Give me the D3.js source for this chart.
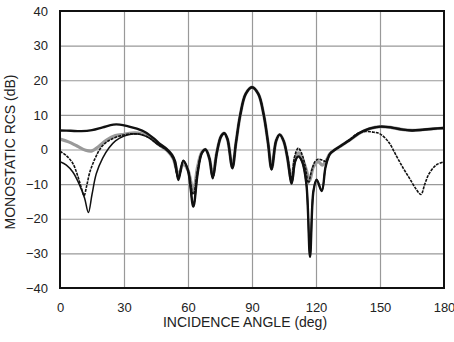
<!DOCTYPE html>
<html>
<head>
<meta charset="utf-8">
<script src="https://cdn.jsdelivr.net/npm/d3@7"></script>
<style>
  body { margin: 0; background: #fff; }
  svg { display: block; }
  text { font-family: "Liberation Sans", Arial, sans-serif; fill: #222; }
</style>
</head>
<body>
<svg id="chart" width="454" height="342"></svg>
<script>
// axis ticks
var xTicks = [0, 30, 60, 90, 120, 150, 180];
var yTicks = [-40, -30, -20, -10, 0, 10, 20, 30, 40];

// [incidence angle deg, RCS dB]
var thickBlack = [
  [0,5.5],[5,5.4],[10,5.3],[15,5.6],[20,6.4],[25,7.2],[28,7.2],[32,6.7],[36,6.0],
  [40,5.0],[44,3.2],[47,1.5],[50,0.2],[52.5,-1.5],[54,-3.5],[55.5,-8.8],[57.8,-3.2],
  [60,-6],[62.5,-16.5],[64.5,-7],[66.5,-1],[68.2,0],[70,-2.5],[71.6,-8.3],[73.5,-1],
  [75.5,3.8],[77,4.7],[78.5,3],[80.8,-5.4],[82.5,2],[84.5,10],[87,16],[90,18],
  [93,16],[95.5,10],[97.5,2],[99.2,-5.8],[101.3,2.5],[103,4.3],[104.8,2.5],[106.5,-2],
  [108.6,-9.8],[110.2,-3.5],[111.7,-2],[113.5,-3.5],[115.5,-10],[117.2,-31],[118.8,-12],
  [120.3,-8.7],[122.7,-12],[124.5,-5],[126.6,-1.2],[129,0],[131,0.8],[136,2.8],
  [140,4.6],[145,6],[150,6.6],[155,6.4],[160,5.8],[165,5.5],[170,5.7],[175,6],[180,6.2]
];

var grayCurve = [
  [0,3],[4,2.2],[8,1],[12,-0.2],[15,-0.4],[18,0.8],[22,2.8],[26,4],[30,4.4],[35,4.8],
  [38,4.6],[42,3.5],[46,1.5],[50,-0.2],[53,-2.5],[55.5,-7.2],[57.8,-4.2],[60,-6],
  [62.5,-12],[64.5,-5],[66.5,-0.8],[68.2,0],[70,-2.5],[71.6,-7.5],[73.5,-0.8],
  [75.5,3.8],[77,4.7],[78.5,3],[80.8,-5],[82.5,2],[84.5,10],[87,16],[90,18],
  [93,16],[95.5,10],[97.5,2],[99.2,-5.5],[101.3,2.5],[103,4.3],[104.8,2.5],[106.5,-2],
  [108.6,-9],[110.2,-2.5],[111.7,-1],[113.5,-2.5],[115.5,-6],[117,-9],[118.8,-5],
  [121,-3.5],[123,-4.5],[124.5,-3.5],[126.6,-1.2],[129,0],[131,0.8],[136,2.8],
  [140,4.6],[145,6],[150,6.6],[155,6.4],[160,5.8],[165,5.5],[170,5.7],[175,6],[180,6.2]
];

var thinSolid = [
  [0,-3.5],[3,-4.5],[6,-6.5],[9,-10],[11.5,-14],[13.3,-18.2],[15,-13],[17,-7],[20,-2.5],
  [23,0.5],[26,2.5],[30,3.9],[34,4.5],[38,4.3],[42,3.3],[46,1.4],[50,-0.2],[53,-2.5],
  [55.5,-8.5],[57.8,-3.2],[60,-6],[62.5,-16.5],[64.5,-7],[66.5,-1],[68.2,0],[70,-2.5],
  [71.6,-8.3],[73.5,-1],[75.5,3.8],[77,4.7],[78.5,3],[80.8,-5.4],[82.5,2],[84.5,10],
  [87,16],[90,18],[93,16],[95.5,10],[97.5,2],[99.2,-5.8],[101.3,2.5],[103,4.3],
  [104.8,2.5],[106.5,-2],[108.6,-9.8],[110.2,-3.5],[111.7,-2],[113.5,-3.5],[115.5,-10],
  [117.2,-31],[118.8,-12],[120.3,-8.7],[122.7,-12],[124.5,-5],[126.6,-1.2],[129,0],
  [131,0.8],[136,2.8],[140,4.6],[145,6],[150,6.6],[155,6.4],[160,5.8],[165,5.5],
  [170,5.7],[175,6],[180,6.2]
];

var dotted = [
  [0,-0.5],[3,-1.8],[6,-4],[8.5,-8],[10.2,-11.5],[11.3,-13.3],[12.5,-10.5],[14,-6.5],
  [16.5,-2.5],[19.5,0.8],[23,2.6],[28,3.9],[33,4.5],[38,4.3],[42,3.3],[46,1.4],
  [50,-0.2],[53,-2.5],[55.5,-8],[57.8,-3.5],[60,-6],[62.5,-13],[64.5,-6],[66.5,-1],
  [68.2,0],[70,-2.5],[71.6,-8],[73.5,-1],[75.5,3.8],[77,4.7],[78.5,3],[80.8,-5.2],
  [82.5,2],[84.5,10],[87,16],[90,18],[93,16],[95.5,10],[97.5,2],[99.2,-5.6],[101.3,2.5],
  [103,4.3],[104.8,2.5],[106.5,-1.5],[108.6,-8.5],[110,-2],[111.7,0.4],[113.5,-1.5],
  [115,-5],[116.4,-9.7],[118,-6],[119.5,-3.5],[121,-2.8],[123,-3.1],[124.5,-3.4],
  [126.6,-1.2],[131,0.8],[136,3],[140,4.8],[143,5.2],[147,5],[150,4.5],[154,2.2],
  [157.8,-2],[161,-5.5],[164,-8.5],[167,-11.5],[169.2,-13],[171,-10],[173,-7],
  [176.5,-4.4],[180,-3.6]
];

var svg = d3.select("#chart");
var plotLeft = 60, plotRight = 444, plotTop = 11, plotBottom = 288;

var x = d3.scaleLinear().domain([0, 180]).range([plotLeft, plotRight]);
var y = d3.scaleLinear().domain([-40, 40]).range([plotBottom, plotTop]);

// grid
svg.append("g")
  .attr("transform", "translate(0," + plotBottom + ")")
  .call(d3.axisBottom(x).tickValues(xTicks.slice(1, -1)).tickSize(-(plotBottom - plotTop)).tickFormat(""))
  .call(function(g){ g.select(".domain").remove(); })
  .selectAll("line").attr("stroke", "#999").attr("stroke-width", 1.2);

svg.append("g")
  .attr("transform", "translate(" + plotLeft + ",0)")
  .call(d3.axisLeft(y).tickValues(yTicks.slice(1, -1)).tickSize(-(plotRight - plotLeft)).tickFormat(""))
  .call(function(g){ g.select(".domain").remove(); })
  .selectAll("line").attr("stroke", "#999").attr("stroke-width", 1.2);

// tick labels
var xAxis = svg.append("g")
  .attr("transform", "translate(0," + plotBottom + ")")
  .call(d3.axisBottom(x).tickValues(xTicks).tickSize(0).tickPadding(15));
xAxis.select(".domain").remove();
xAxis.selectAll("text").attr("font-size", 13).attr("fill", "#222")
  .attr("font-family", "Liberation Sans, Arial, sans-serif");

var yAxis = svg.append("g")
  .attr("transform", "translate(" + plotLeft + ",0)")
  .call(d3.axisLeft(y).tickValues(yTicks).tickSize(0).tickPadding(12));
yAxis.select(".domain").remove();
yAxis.selectAll("text").attr("font-size", 13).attr("fill", "#222")
  .attr("font-family", "Liberation Sans, Arial, sans-serif");

// curves
svg.append("clipPath").attr("id", "clip")
  .append("rect").attr("x", plotLeft).attr("y", plotTop)
  .attr("width", plotRight - plotLeft).attr("height", plotBottom - plotTop);

var line = d3.line()
  .x(function(d){ return x(d[0]); })
  .y(function(d){ return y(d[1]); })
  .curve(d3.curveCatmullRom.alpha(0.5));

var plot = svg.append("g").attr("clip-path", "url(#clip)");

plot.append("path").datum(grayCurve)
  .attr("fill", "none").attr("stroke", "#9a9a9a").attr("stroke-width", 3.2)
  .attr("d", line);
plot.append("path").datum(thickBlack)
  .attr("fill", "none").attr("stroke", "#111").attr("stroke-width", 2.4)
  .attr("d", line);
plot.append("path").datum(thinSolid)
  .attr("fill", "none").attr("stroke", "#111").attr("stroke-width", 1.5)
  .attr("d", line);
plot.append("path").datum(dotted)
  .attr("fill", "none").attr("stroke", "#111").attr("stroke-width", 1.6)
  .attr("stroke-dasharray", "3,1")
  .attr("d", line);

// frame
svg.append("rect")
  .attr("x", plotLeft).attr("y", plotTop)
  .attr("width", plotRight - plotLeft).attr("height", plotBottom - plotTop)
  .attr("fill", "none").attr("stroke", "#111").attr("stroke-width", 2);

// axis titles
svg.append("text")
  .attr("x", 245).attr("y", 327)
  .attr("text-anchor", "middle").attr("font-size", 14)
  .text("INCIDENCE ANGLE (deg)");

svg.append("text")
  .attr("transform", "translate(15,152) rotate(-90)")
  .attr("text-anchor", "middle").attr("font-size", 14)
  .text("MONOSTATIC RCS (dB)");
</script>
</body>
</html>
